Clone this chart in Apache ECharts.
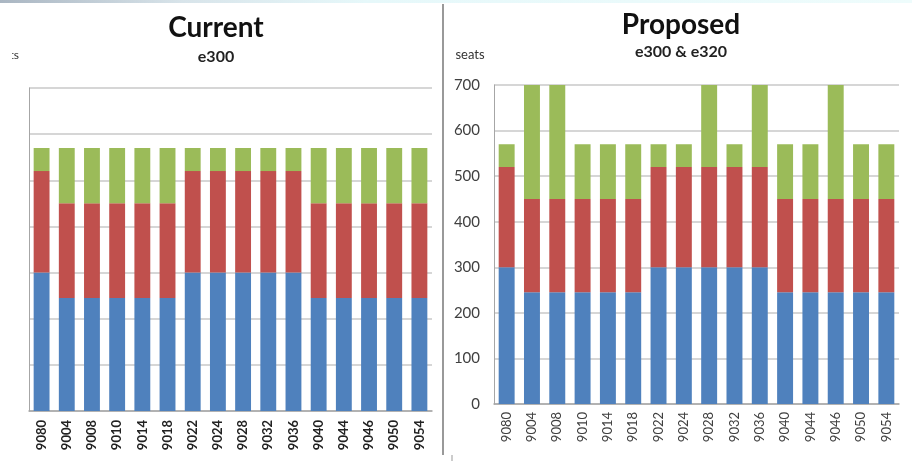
<!DOCTYPE html>
<html>
<head>
<meta charset="utf-8">
<script src="https://cdn.jsdelivr.net/npm/echarts@6/dist/echarts.min.js"></script>
<style>
  html, body { margin: 0; padding: 0; background: #fff; }
  #chart { width: 912px; height: 461px; }
</style>
</head>
<body>
<div id="chart"></div>
<script>
const flights = ['9080', '9004', '9008', '9010', '9014', '9018', '9022', '9024', '9028', '9032', '9036', '9040', '9044', '9046', '9050', '9054']

// current: all e300
const curBlue = [300, 245, 245, 245, 245, 245, 300, 300, 300, 300, 300, 245, 245, 245, 245, 245]
const curRed = [220, 205, 205, 205, 205, 205, 220, 220, 220, 220, 220, 205, 205, 205, 205, 205]
const curGreen = [50, 120, 120, 120, 120, 120, 50, 50, 50, 50, 50, 120, 120, 120, 120, 120]

// proposed: e300 & e320
const propBlue = [300, 245, 245, 245, 245, 245, 300, 300, 300, 300, 300, 245, 245, 245, 245, 245]
const propRed = [220, 205, 205, 205, 205, 205, 220, 220, 220, 220, 220, 205, 205, 205, 205, 205]
const propGreen = [50, 250, 250, 120, 120, 120, 50, 50, 180, 50, 180, 120, 120, 250, 120, 120]

const colors = ['#4f81bd', '#c0504d', '#9bbb59']
const font = 'Lato, "Open Sans", sans-serif'

const chart = echarts.init(document.getElementById('chart'))

function yAxis(gridIndex, showLabels) {
  return {
    type: 'value',
    gridIndex,
    min: 0,
    max: 700,
    interval: 100,
    axisLine: { show: true, lineStyle: { color: '#a6a6a6', width: 1 } },
    axisTick: { show: false },
    axisLabel: { show: showLabels, color: '#404040', fontSize: 15, fontFamily: font, margin: 14 },
    splitLine: { lineStyle: { color: '#c8c8c8', width: 1.5 } },
  }
}

function xAxis(gridIndex, bold) {
  return {
    type: 'category',
    gridIndex,
    data: flights,
    axisLine: { lineStyle: { color: '#a6a6a6', width: 1.5 } },
    axisTick: { show: false },
    axisLabel: {
      rotate: 90,
      interval: 0,
      fontSize: 13,
      fontFamily: font,
      fontWeight: bold ? 'bold' : 'normal',
      color: bold ? '#222' : '#404040',
      margin: bold ? 9 : 8,
    },
  }
}

function bar(name, data, stack, idx, color) {
  return {
    name,
    type: 'bar',
    stack,
    data,
    xAxisIndex: idx,
    yAxisIndex: idx,
    barCategoryGap: '37%',
    itemStyle: { color },
    emphasis: { disabled: true },
  }
}

chart.setOption({
  animation: false,
  backgroundColor: '#fff',
  title: [
    {
      text: 'Current', subtext: 'e300',
      left: 211, top: 9, textAlign: 'center', itemGap: 7,
      textStyle: { fontSize: 28, fontWeight: 'bold', color: '#111', fontFamily: font },
      subtextStyle: { fontSize: 16, fontWeight: 'bold', color: '#222', fontFamily: font },
    },
    {
      text: 'Proposed', subtext: 'e300 & e320',
      left: 676, top: 6, textAlign: 'center', itemGap: 5,
      textStyle: { fontSize: 28, fontWeight: 'bold', color: '#111', fontFamily: font },
      subtextStyle: { fontSize: 16, fontWeight: 'bold', color: '#222', fontFamily: font },
    },
  ],
  grid: [
    { left: 29, right: 480, top: 88, bottom: 50 },
    { left: 494, right: 13, top: 85, bottom: 57 },
  ],
  xAxis: [xAxis(0, true), xAxis(1, false)],
  yAxis: [yAxis(0, false), yAxis(1, true)],
  series: [
    bar('a', curBlue, 'cur', 0, colors[0]),
    bar('b', curRed, 'cur', 0, colors[1]),
    bar('c', curGreen, 'cur', 0, colors[2]),
    bar('a', propBlue, 'prop', 1, colors[0]),
    bar('b', propRed, 'prop', 1, colors[1]),
    bar('c', propGreen, 'prop', 1, colors[2]),
  ],
  graphic: [
    {
      type: 'text', x: 19, y: 55, z: 1,
      style: { text: 'seats', fontSize: 12, fontFamily: font, fill: '#333', textAlign: 'right', textVerticalAlign: 'middle' },
    },
    {
      // the left chart is cropped: only the tail of its axis title shows
      type: 'rect', left: 0, top: 40, z: 2,
      shape: { width: 12, height: 30 },
      style: { fill: '#fff' },
    },
    {
      type: 'rect', left: 0, top: 0, z: 3,
      shape: { width: 912, height: 3 },
      style: {
        fill: new echarts.graphic.LinearGradient(0, 0, 1, 0, [
          { offset: 0, color: '#aab6c2' },
          { offset: 0.2, color: '#d8e4ea' },
          { offset: 0.4, color: '#e6f8fa' },
          { offset: 1, color: '#eefcfc' },
        ]),
      },
    },
    {
      type: 'line',
      shape: { x1: 443, y1: 4, x2: 443, y2: 455 },
      style: { stroke: '#999', lineWidth: 2 },
    },
    {
      type: 'line',
      shape: { x1: 452, y1: 455, x2: 452, y2: 461 },
      style: { stroke: '#999', lineWidth: 1 },
    },
    {
      type: 'text', x: 470, y: 55,
      style: { text: 'seats', fontSize: 13, fontFamily: font, fill: '#333', textAlign: 'center', textVerticalAlign: 'middle' },
    },
  ],
})
</script>
</body>
</html>
